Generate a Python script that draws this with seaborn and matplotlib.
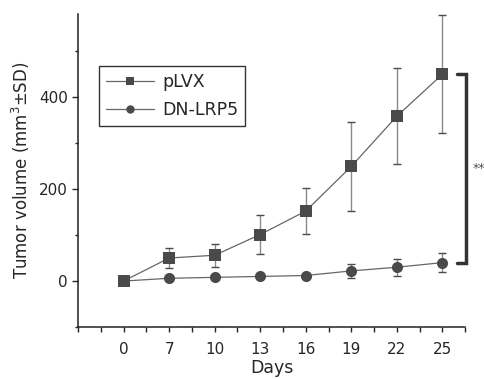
import numpy as np
import pandas as pd
import matplotlib
matplotlib.use("Agg")
import matplotlib.pyplot as plt
import seaborn as sns
from matplotlib.ticker import FixedLocator

days = [0, 7, 10, 13, 16, 19, 22, 25]
plvx_mean = [0, 50, 56, 101, 152, 249, 358, 449]
plvx_sd = [0, 22, 25, 42, 50, 97, 104, 128]
dn_mean = [0, 6, 8, 10, 12, 22, 30, 40]
dn_sd = [0, 3, 3, 3, 4, 16, 18, 20]
groups = ["pLVX", "DN-LRP5"]

sns.set_style("ticks")
plt.rcParams["font.family"] = ["DejaVu Sans"]

pos = np.arange(len(days))
df = pd.concat([
    pd.DataFrame({"pos": pos, "vol": plvx_mean, "sd": plvx_sd, "group": groups[0]}),
    pd.DataFrame({"pos": pos, "vol": dn_mean, "sd": dn_sd, "group": groups[1]}),
])

fig = plt.figure(figsize=(4.85, 3.79), dpi=100)
ax = fig.add_axes([0.161, 0.137, 0.798, 0.826])

mark_col = "#4a4a4a"
line_col = "#666666"

# error bars first so the markers sit on top
for g in groups:
    d = df[df.group == g]
    ax.errorbar(d.pos, d.vol, yerr=d.sd, fmt="none", ecolor="#8a8a8a",
                elinewidth=1.0, capsize=2.8, capthick=1.0, zorder=2)

sns.lineplot(data=df, x="pos", y="vol", hue="group", style="group",
             markers={"pLVX": "s", "DN-LRP5": "o"}, dashes=False,
             palette={"pLVX": line_col, "DN-LRP5": line_col},
             markersize=8, linewidth=0.9, markeredgewidth=0,
             ax=ax, zorder=3)
for ln in ax.lines:
    ln.set_markerfacecolor(mark_col)
    ln.set_markeredgecolor(mark_col)

ax.set_xlim(-1, 7.5)
ax.set_ylim(-100, 580)
ax.set_xticks(pos)
ax.set_xticklabels([str(d) for d in days])
ax.xaxis.set_minor_locator(FixedLocator(np.arange(-1, 7.6, 0.5)))
ax.set_yticks([0, 200, 400])
ax.yaxis.set_minor_locator(FixedLocator([-100, 100, 300, 500]))
ax.tick_params(axis="x", which="both", length=3.5, width=1, direction="out",
               labelsize=11, pad=7)
ax.tick_params(axis="y", which="major", length=4, width=1, labelsize=11)
ax.tick_params(axis="y", which="minor", length=2.5, width=1)
sns.despine(ax=ax)
for s in ["left", "bottom"]:
    ax.spines[s].set_linewidth(1.1)
    ax.spines[s].set_color("#222222")

ax.set_xlabel("Days", fontsize=12.5, labelpad=2)
ax.set_ylabel("Tumor volume (mm$^3$±SD)", fontsize=12, labelpad=5)

# significance bracket
xb = 7.52
ax.plot([7.32, xb, xb, 7.32], [449, 449, 40, 40], color="#333333",
        lw=2.5, clip_on=False, solid_joinstyle="miter", zorder=4)
ax.text(7.66, 245, "**", fontsize=9, color="#555555", va="center", ha="left")

leg = ax.legend(loc="upper left", bbox_to_anchor=(0.054, 0.834), title=None,
                fontsize=12.5, handlelength=2.75, frameon=True, fancybox=False,
                borderpad=0.4, labelspacing=0.6, handletextpad=0.5,
                borderaxespad=0)
leg.get_frame().set_edgecolor("black")
leg.get_frame().set_linewidth(1.0)
for h in leg.legend_handles:
    h.set_markerfacecolor(mark_col)
    h.set_markeredgecolor(mark_col)
    h.set_markersize(6)

fig.savefig("out.png", dpi=100)
